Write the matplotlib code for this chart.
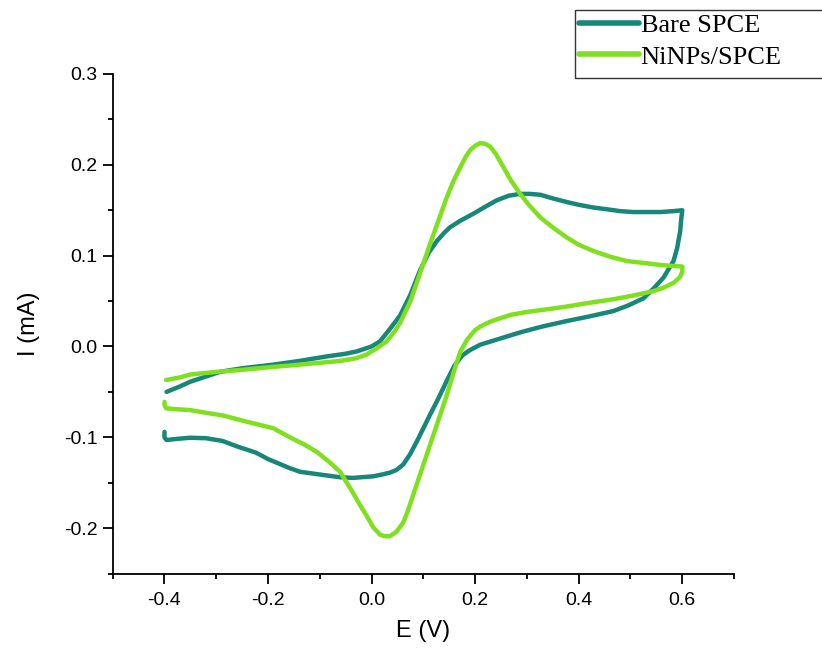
import matplotlib

matplotlib.use("Agg")
import matplotlib.pyplot as plt
from matplotlib.patches import Rectangle
from matplotlib.ticker import MultipleLocator

# Cyclic voltammograms (E in V, I in mA)
# forward scan -0.4 -> 0.6, then reverse scan back to -0.4
bare_E = [-0.396, -0.37, -0.351, -0.293, -0.25, -0.19, -0.14, -0.087, -0.05, -0.029,
          0.0, 0.016, 0.035, 0.055, 0.075, 0.093, 0.11, 0.126, 0.14, 0.151, 0.17,
          0.196, 0.22, 0.242, 0.265, 0.287, 0.305, 0.326, 0.35, 0.377, 0.4, 0.428,
          0.455, 0.48, 0.505, 0.532, 0.558, 0.583, 0.6,
          0.598, 0.596, 0.59, 0.583, 0.564, 0.545, 0.525, 0.495, 0.467, 0.42, 0.377,
          0.33, 0.29, 0.25, 0.21, 0.19, 0.175, 0.16, 0.145, 0.13, 0.113, 0.1, 0.087,
          0.074, 0.061, 0.048, 0.035, 0.02, 0.003, -0.036, -0.061, -0.1, -0.138,
          -0.158, -0.2, -0.223, -0.26, -0.288, -0.32, -0.351, -0.38, -0.396, -0.4, -0.4]
bare_I = [-0.050, -0.044, -0.039, -0.028, -0.024, -0.020, -0.016, -0.011, -0.008, -0.0055,
          0.0, 0.0055, 0.019, 0.034, 0.057, 0.083, 0.103, 0.116, 0.125, 0.131, 0.138,
          0.146, 0.154, 0.161, 0.166, 0.168, 0.168, 0.167, 0.163, 0.159, 0.156, 0.153,
          0.151, 0.149, 0.148, 0.148, 0.148, 0.149, 0.150,
          0.140, 0.127, 0.108, 0.094, 0.076, 0.064, 0.053, 0.045, 0.039, 0.033, 0.028,
          0.022, 0.016, 0.009, 0.002, -0.004, -0.010, -0.021, -0.038, -0.056, -0.075,
          -0.090, -0.105, -0.119, -0.130, -0.136, -0.139, -0.141, -0.143, -0.1447,
          -0.144, -0.141, -0.138, -0.134, -0.124, -0.117, -0.110, -0.104, -0.101,
          -0.1005, -0.102, -0.103, -0.100, -0.094]

ni_E = [-0.397, -0.37, -0.351, -0.3, -0.255, -0.2, -0.158, -0.1, -0.061, -0.03,
        -0.01, 0.01, 0.029, 0.045, 0.055, 0.075, 0.095, 0.113, 0.13, 0.145, 0.158,
        0.171, 0.182, 0.19, 0.2, 0.21, 0.22, 0.229, 0.24, 0.255, 0.27, 0.287, 0.305,
        0.326, 0.35, 0.377, 0.4, 0.429, 0.46, 0.493, 0.525, 0.558, 0.585, 0.6,
        0.6, 0.595, 0.583, 0.565, 0.545, 0.505, 0.467, 0.42, 0.377, 0.34, 0.3, 0.27,
        0.248, 0.228, 0.21, 0.2, 0.185, 0.172, 0.163, 0.155, 0.145, 0.132, 0.119,
        0.106, 0.093, 0.08, 0.07, 0.061, 0.048, 0.035, 0.025, 0.016, 0.003, -0.01,
        -0.023, -0.036, -0.05, -0.061, -0.08, -0.106, -0.13, -0.158, -0.19, -0.24,
        -0.287, -0.32, -0.351, -0.38, -0.397, -0.4, -0.4]
ni_I = [-0.037, -0.034, -0.031, -0.028, -0.026, -0.023, -0.021, -0.018, -0.016, -0.013,
        -0.009, -0.002, 0.0055, 0.017, 0.026, 0.05, 0.083, 0.113, 0.140, 0.164, 0.182,
        0.197, 0.209, 0.216, 0.221, 0.224, 0.223, 0.220, 0.212, 0.197, 0.182, 0.168,
        0.155, 0.142, 0.131, 0.120, 0.112, 0.105, 0.099, 0.094, 0.092, 0.0897, 0.0885,
        0.088,
        0.082, 0.076, 0.070, 0.065, 0.061, 0.056, 0.052, 0.048, 0.044, 0.041, 0.038,
        0.035, 0.031, 0.027, 0.022, 0.018, 0.008, -0.005, -0.020, -0.035, -0.054,
        -0.076, -0.098, -0.12, -0.142, -0.164, -0.181, -0.194, -0.204, -0.209, -0.209,
        -0.207, -0.199, -0.186, -0.174, -0.161, -0.148, -0.138, -0.128, -0.116,
        -0.108, -0.100, -0.090, -0.083, -0.076, -0.073, -0.070, -0.069, -0.068, -0.064,
        -0.061]

plt.rcParams["font.family"] = ["Liberation Sans", "DejaVu Sans"]

fig = plt.figure(figsize=(8.22, 6.49), dpi=100)
ax = fig.add_axes([0.1371, 0.1163, 0.7559, 0.7697])

ax.plot(bare_E, bare_I, color="#17877A", lw=3.2, solid_joinstyle="round",
        solid_capstyle="round", label="Bare SPCE")
ax.plot(ni_E, ni_I, color="#7FE01F", lw=3.2, solid_joinstyle="round",
        solid_capstyle="round", label="NiNPs/SPCE")

ax.set_xlim(-0.5, 0.7)
ax.set_ylim(-0.25, 0.3)
ax.xaxis.set_minor_locator(MultipleLocator(0.1))
ax.yaxis.set_minor_locator(MultipleLocator(0.05))
ax.set_xticks([-0.4, -0.2, 0.0, 0.2, 0.4, 0.6])
ax.set_xticklabels(["-0.4", "-0.2", "0.0", "0.2", "0.4", "0.6"])
ax.set_yticks([-0.2, -0.1, 0.0, 0.1, 0.2, 0.3])
ax.set_yticklabels(["-0.2", "-0.1", "0.0", "0.1", "0.2", "0.3"])

for s in ["top", "right"]:
    ax.spines[s].set_visible(False)
for s in ["left", "bottom"]:
    ax.spines[s].set_linewidth(1.3)
ax.tick_params(which="major", direction="out", length=7, width=1.3, labelsize=14)
ax.tick_params(which="minor", direction="out", length=3.5, width=1.3)
ax.tick_params(axis="x", which="major", pad=6)
ax.tick_params(axis="y", which="major", pad=4)

ax.set_xlabel("E (V)", fontsize=17)
ax.set_ylabel("I (mA)", fontsize=17)
ax.xaxis.set_label_coords(0.5, -0.093)
ax.yaxis.set_label_coords(-0.117, 0.5)

# legend box runs off the right edge of the figure, as in the reference
fig.patches.append(Rectangle((575 / 822, 1 - 78 / 649), 0.4, 68 / 649,
                             transform=fig.transFigure, fill=False,
                             edgecolor="#333333", lw=1.0))
leg = fig.legend(loc="upper left", bbox_to_anchor=(576 / 822, 1 - 11 / 649),
                 borderaxespad=0, frameon=False, handlelength=2.3,
                 handletextpad=0.05, labelspacing=0.3, borderpad=0.1,
                 prop={"family": "Liberation Serif", "size": 19})
for h in leg.legend_handles:
    h.set_linewidth(4.0)

fig.savefig("out.png", dpi=100)
